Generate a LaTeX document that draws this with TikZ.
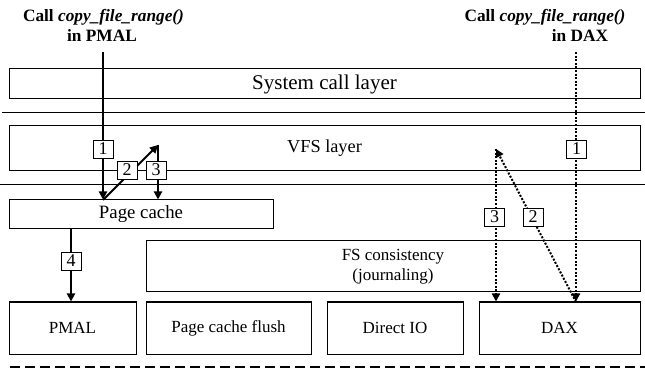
\documentclass[tikz,border=0pt]{standalone}
\usepackage{fontspec}
\setmainfont{Liberation Serif}
\usetikzlibrary{arrows.meta}
\begin{document}
\begin{tikzpicture}[x=1pt,y=-1pt,
  layerbox/.style={draw,line width=1pt,inner sep=0pt,minimum height=#1},
  txt/.style={font=\fontsize{17}{20}\selectfont},
  numbox/.style={draw,line width=0.8pt,fill=white,inner sep=0pt,minimum width=20pt,minimum height=18pt,font=\fontsize{18}{18}\selectfont},
  solidarrow/.style={line width=2pt,-{Triangle[length=8pt,width=8pt]}},
  dotarrow/.style={line width=2pt,dash pattern=on 2pt off 1.6pt,-{Triangle[length=8pt,width=8pt]}},
  sepline/.style={line width=1pt},
  title/.style={font=\fontsize{17.3}{20}\selectfont\bfseries,anchor=base}]
\useasboundingbox (0,0) rectangle (645,371);
% layer boxes
\node[layerbox=30pt,minimum width=631pt,font=\fontsize{21}{24}\selectfont] (syscall) at (324.5,84) {System call layer};
\node[layerbox=45pt,minimum width=631pt,font=\fontsize{18.3}{20}\selectfont] (vfs) at (324.5,148.5) {VFS layer};
\node[layerbox=29pt,minimum width=264pt,font=\fontsize{18.8}{20}\selectfont] (pagecache) at (141,214.5) {Page cache};
\node[layerbox=51pt,minimum width=494pt,txt,align=center] (fscons) at (393,266.5) {FS consistency\\(journaling)};
\node[layerbox=52pt,minimum width=127pt,txt] (pmal) at (72.5,328) {PMAL};
\node[layerbox=52pt,minimum width=165pt,txt] (pcflush) at (228.5,328) {Page cache flush};
\node[layerbox=52pt,minimum width=136pt,txt] (directio) at (395,328) {Direct IO};
\node[layerbox=52pt,minimum width=161pt,txt] (dax) at (559.5,328) {DAX};
% separator lines
\coordinate (s1l) at (2,113); \coordinate (s1r) at (645,113);
\coordinate (s2l) at (0,185); \coordinate (s2r) at (645,185);
\draw[sepline] (s1l) -- (s1r);
\draw[sepline] (s2l) -- (s2r);
\coordinate (dl) at (10,367); \coordinate (dr) at (645,367);
\draw[line width=2.5pt,dash pattern=on 10pt off 5pt] (dl) -- (dr);
% titles
\node[title] (tl1) at (103.5,22) {Call \textit{copy\_file\_range()}};
\node[title] (tl2) at (102,42) {in PMAL};
\node[title] (tr1) at (545,22) {Call \textit{copy\_file\_range()}};
\node[title] (tr2) at (580,42) {in DAX};
% PMAL path
\coordinate (startL) at (103,52);
\coordinate (vfsP) at (158,145);
\coordinate (pcL) at (103,200);
\draw[solidarrow] (startL) -- (startL |- pagecache.north);
\draw[solidarrow] (pcL) -- (vfsP);
\draw[solidarrow] (vfsP) -- (vfsP |- pagecache.north);
\coordinate (pc4) at (71,229);
\draw[solidarrow] (pc4) -- (pc4 |- pmal.north);
% DAX path
\coordinate (startR) at (576,52);
\coordinate (vfsQ) at (496,149);
\coordinate (daxT) at (576,302);
\draw[dotarrow] (startR) -- (startR |- dax.north);
\draw[dotarrow] (daxT) -- (vfsQ);
\draw[dotarrow] (vfsQ) -- (vfsQ |- dax.north);
% step labels
\node[numbox] (nL1) at (103,149) {1};
\node[numbox] (nL2) at (127,170) {2};
\node[numbox] (nL3) at (156,170) {3};
\node[numbox] (nL4) at (71,261) {4};
\node[numbox] (nR1) at (576.5,149) {1};
\node[numbox] (nR2) at (533,217) {2};
\node[numbox] (nR3) at (494.5,217) {3};
\end{tikzpicture}
\end{document}
